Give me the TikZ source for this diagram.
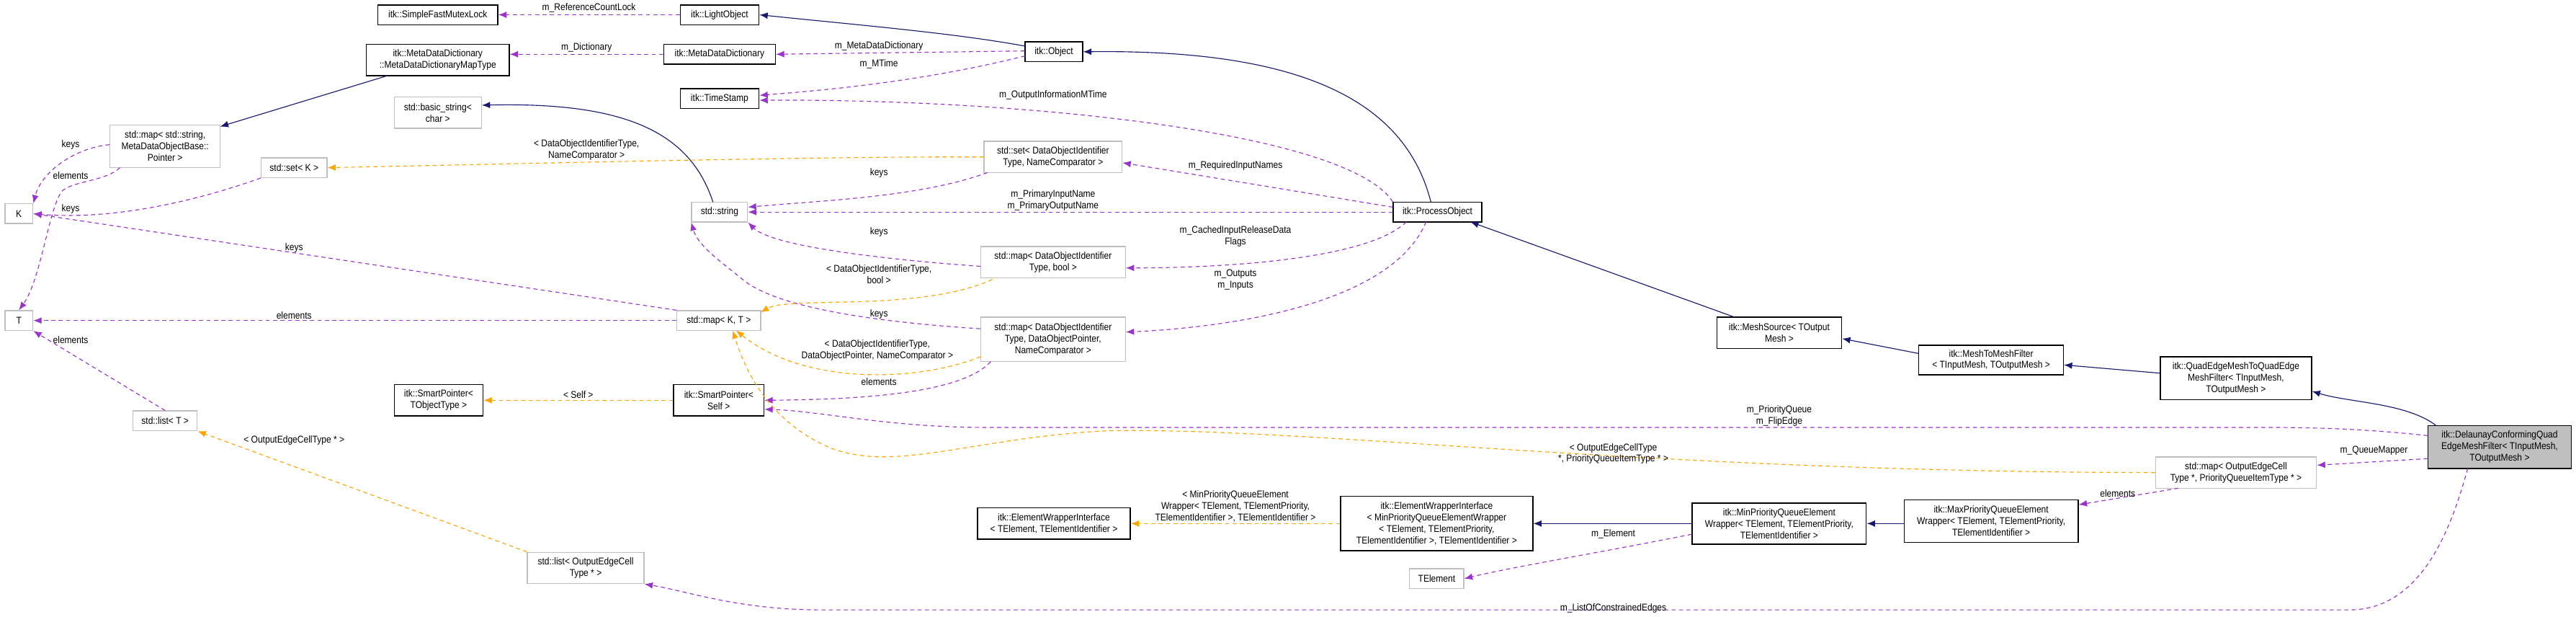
\documentclass[tikz,border=0pt]{standalone}
\usepackage{fontspec}
\setmainfont[FakeStretch=0.88]{Liberation Sans}
\usetikzlibrary{arrows.meta}
\definecolor{inh}{HTML}{191970}
\definecolor{use}{HTML}{9A32CD}
\definecolor{tpl}{HTML}{FFA500}
\tikzset{
  x=1pt,y=-1pt,
  every node/.style={font=\fontsize{6}{7}\selectfont,inner sep=0pt},
  bx/.style={draw=black,fill=white,line width=0.6pt,align=center},
  gb/.style={draw=black!25,fill=white,line width=0.6pt,align=center},
  lb/.style={align=center},
  inhe/.style={draw=inh,line width=0.5pt,-{Latex[length=5pt,width=4pt]}},
  usee/.style={draw=use,line width=0.5pt,dash pattern=on 2.5pt off 2pt,-{Latex[length=5pt,width=4pt]}},
  tple/.style={draw=tpl,line width=0.5pt,dash pattern=on 2.5pt off 2pt,-{Latex[length=5pt,width=4pt]}},
}
\newcommand{\bnode}[7]{\node[#7,minimum width=#4pt,minimum height=#5pt] (#1) at (#2,#3) {#6};}
\begin{document}
\begin{tikzpicture}
\useasboundingbox (0,0) rectangle (1568,375);
\fill[white] (0,0) rectangle (1568,375);
% nodes
\bnode{sfml}{266.5}{9}{73}{12}{itk::SimpleFastMutexLock}{bx}
\bnode{light}{438}{9}{48}{12}{itk::LightObject}{bx}
\bnode{mdd}{438}{33}{68}{12}{itk::MetaDataDictionary}{bx}
\bnode{mdmt}{266.5}{36.5}{87}{19}{itk::MetaDataDictionary\\::MetaDataDictionaryMapType}{bx}
\bnode{ts}{438}{60}{48}{12}{itk::TimeStamp}{bx}
\bnode{obj}{641.5}{31.5}{35}{12}{itk::Object}{bx}
\bnode{bstr}{266.5}{68.5}{53}{19}{std::basic\_string<\\ char >}{gb}
\bnode{mapss}{100.5}{89}{67}{26}{std::map< std::string,\\ MetaDataObjectBase::\\ Pointer >}{gb}
\bnode{setK}{179}{102}{40}{12}{std::set< K >}{gb}
\bnode{K}{11.5}{130}{17}{12}{K}{gb}
\bnode{setDOI}{641}{95.5}{84}{19}{std::set< DataObjectIdentifier\\Type, NameComparator >}{gb}
\bnode{str}{438}{129}{34}{12}{std::string}{gb}
\bnode{po}{875}{129}{54}{12}{itk::ProcessObject}{bx}
\bnode{mapDB}{641}{159.5}{88}{19}{std::map< DataObjectIdentifier\\Type, bool >}{gb}
\bnode{T}{11.5}{195}{17}{12}{T}{gb}
\bnode{mapKT}{437.5}{195}{51}{12}{std::map< K, T >}{gb}
\bnode{mapDP}{641}{206.5}{88}{27}{std::map< DataObjectIdentifier\\Type, DataObjectPointer,\\NameComparator >}{gb}
\bnode{spT}{267}{243.5}{54}{19}{itk::SmartPointer<\\ TObjectType >}{bx}
\bnode{spS}{437.5}{243.5}{55}{19}{itk::SmartPointer<\\ Self >}{bx}
\bnode{listT}{100.5}{256}{39}{12}{std::list< T >}{gb}
\bnode{ms}{1083}{202.5}{76}{19}{itk::MeshSource< TOutput\\Mesh >}{bx}
\bnode{mm}{1212}{219}{88}{18}{itk::MeshToMeshFilter\\< TInputMesh, TOutputMesh >}{bx}
\bnode{qe}{1361}{230}{92}{26}{itk::QuadEdgeMeshToQuadEdge\\MeshFilter< TInputMesh,\\ TOutputMesh >}{bx}
\node[bx,fill=black!25,minimum width=87pt,minimum height=26pt] (del) at (1521.5,272) {itk::DelaunayConformingQuad\\EdgeMeshFilter< TInputMesh,\\ TOutputMesh >};
\bnode{mapOE}{1361}{287.5}{98}{19}{std::map< OutputEdgeCell\\Type *, PriorityQueueItemType * >}{gb}
\bnode{ewiT}{641.5}{318.5}{93}{19}{itk::ElementWrapperInterface\\< TElement, TElementIdentifier >}{bx}
\bnode{ewiM}{874.5}{318.5}{117}{33}{itk::ElementWrapperInterface\\< MinPriorityQueueElementWrapper\\< TElement, TElementPriority,\\ TElementIdentifier >, TElementIdentifier >}{bx}
\bnode{minP}{1083}{318.5}{106}{25}{itk::MinPriorityQueueElement\\Wrapper< TElement, TElementPriority,\\ TElementIdentifier >}{bx}
\bnode{maxP}{1212}{317}{106}{26}{itk::MaxPriorityQueueElement\\Wrapper< TElement, TElementPriority,\\ TElementIdentifier >}{bx}
\bnode{tel}{874.5}{352}{33}{12}{TElement}{gb}
\bnode{listOE}{356.5}{345.5}{71}{19}{std::list< OutputEdgeCell\\Type * >}{gb}
% inheritance
\draw[inhe] (obj.west|-0,28) .. controls (580,20) and (520,15) .. (light.east);
\draw[inhe] (871,123) .. controls (855,60) and (790,30) .. (obj.east);
\draw[inhe] (1056,193) -- (895,135);
\draw[inhe] (mm.west|-0,215) -- (ms.east|-0,206);
\draw[inhe] (qe.west|-0,227) -- (mm.east|-0,222);
\draw[inhe] (1483,259) .. controls (1465,245) and (1430,245) .. (qe.east|-0,238);
\draw[inhe] (236,46) -- (134,77);
\draw[inhe] (434,123) .. controls (420,80) and (380,62) .. (bstr.east|-0,64);
\draw[inhe] (minP.west) -- (ewiM.east|-minP.west);
\draw[inhe] (maxP.west|-minP.west) -- (minP.east);
% usage
\draw[usee] (light.west) -- node[above=1pt]{m\_ReferenceCountLock} (sfml.east);
\draw[usee] (mdd.west) -- node[above=1pt]{m\_Dictionary} (mdmt.east|-mdd.west);
\draw[usee] (obj.west|-0,31) -- (mdd.east);
\node (l1) at (535,28) {m\_MetaDataDictionary};
\draw[usee] (624,34) .. controls (560,50) and (500,55) .. (ts.east|-0,58);
\node (l2) at (535,39) {m\_MTime};
\draw[usee] (po.north west) .. controls (820,80) and (620,60) .. (ts.east|-0,61);
\node (l3) at (641,58) {m\_OutputInformationMTime};
\draw[usee] (po.west|-0,126) -- (setDOI.east|-0,99);
\node (l4) at (752,101) {m\_RequiredInputNames};
\draw[usee] (po.west|-0,129) -- (str.east);
\node[lb] (l5) at (641,122) {m\_PrimaryInputName\\m\_PrimaryOutputName};
\draw[usee] (856,135) .. controls (830,160) and (730,163) .. (mapDB.east|-0,163);
\node[lb] (l6) at (752,144) {m\_CachedInputReleaseData\\Flags};
\draw[usee] (868,135) .. controls (845,190) and (730,200) .. (mapDP.east|-0,202);
\node[lb] (l7) at (752,170) {m\_Outputs\\m\_Inputs};
\draw[usee] (601,105) .. controls (560,120) and (500,122) .. (str.east|-0,126);
\node (l8) at (535,105) {keys};
\draw[usee] (mapDB.west|-0,162) .. controls (540,158) and (470,150) .. (str.south east);
\node (l9) at (535,141) {keys};
\draw[usee] (mapDP.west|-0,200) .. controls (520,195) and (470,185) .. (452,170) .. controls (440,160) and (425,150) .. (str.south west);
\node (l10) at (535,191) {keys};
\draw[usee] (603,220) .. controls (585,240) and (520,243) .. (spS.east);
\node (l11) at (535,232) {elements};
\draw[usee] (mapss.west|-0,88) .. controls (45,90) and (25,105) .. (K.north east);
\node (l12) at (43,88) {keys};
\draw[usee] (73,102) .. controls (65,110) and (45,110) .. (38,116) .. controls (30,125) and (25,170) .. (T.north);
\node (l13) at (43,107) {elements};
\draw[usee] (setK.south west) .. controls (140,115) and (80,135) .. (K.east);
\node (l14) at (43,127) {keys};
\draw[usee] (mapKT.north west) -- (K.east);
\node (l15) at (179,151) {keys};
\draw[usee] (mapKT.west) -- (T.east);
\node (l16) at (179,192) {elements};
\draw[usee] (listT.north) -- (T.south east);
\node (l17) at (43,207) {elements};
\draw[usee] (del.west|-0,265) .. controls (1450,262) and (1420,260) .. (1380,260) -- (600,260) .. controls (540,260) and (500,250) .. (spS.east|-0,249);
\node[lb] (l18) at (1083,253) {m\_PriorityQueue\\m\_FlipEdge};
\draw[usee] (del.west|-0,279) -- (mapOE.east|-0,283);
\node (l19) at (1445,274) {m\_QueueMapper};
\draw[usee] (1326,297) -- (maxP.east|-0,307);
\node (l20) at (1289,300) {elements};
\draw[usee] (minP.west|-0,325) .. controls (980,335) and (920,345) .. (tel.east);
\node (l21) at (982,325) {m\_Element};
\draw[usee] (1502,285) .. controls (1490,330) and (1470,371) .. (1430,371) -- (500,371) .. controls (450,371) and (420,360) .. (listOE.south east);
\node (l22) at (982,370) {m\_ListOfConstrainedEdges};
% template
\draw[tple] (setDOI.west) .. controls (500,95) and (300,100) .. (setK.east);
\node[lb] (l23) at (357,91) {< DataObjectIdentifierType,\\NameComparator >};
\draw[tple] (604,170) .. controls (560,190) and (480,180) .. (463,190);
\node[lb] (l24) at (535,167) {< DataObjectIdentifierType,\\bool >};
\draw[tple] (mapDP.west|-0,217) .. controls (560,232) and (490,235) .. (448,201);
\node[lb] (l25) at (534,213) {< DataObjectIdentifierType,\\DataObjectPointer, NameComparator >};
\draw[tple] (mapOE.west) .. controls (1000,287) and (800,260) .. (675,262) .. controls (590,266) and (540,290) .. (500,270) .. controls (470,255) and (455,230) .. (446,201);
\node[lb] (l26) at (982,276) {< OutputEdgeCellType\\*, PriorityQueueItemType * >};
\draw[tple] (spS.west) -- node[above=1pt]{< Self >} (spT.east);
\draw[tple] (listOE.north west) -- (listT.south east);
\node (l27) at (179,268) {< OutputEdgeCellType * >};
\draw[tple] (ewiM.west|-ewiT.east) -- (ewiT.east);
\node[lb] (l28) at (752,308) {< MinPriorityQueueElement\\Wrapper< TElement, TElementPriority,\\ TElementIdentifier >, TElementIdentifier >};
\end{tikzpicture}
\end{document}
